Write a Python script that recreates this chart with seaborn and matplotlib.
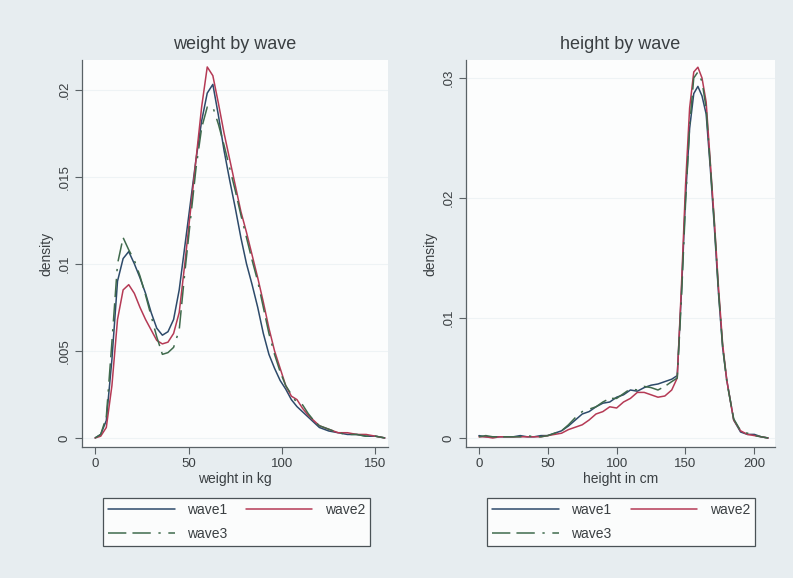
import matplotlib
matplotlib.use("Agg")
import matplotlib.pyplot as plt
import matplotlib.ticker as mticker
import seaborn as sns
import pandas as pd

# ---------------- data ----------------
waves = ["wave1", "wave2", "wave3"]

weight_x = [0, 3, 6, 9, 12, 15, 18, 21, 24, 27, 30, 33, 36, 39, 42, 45, 48, 51, 54, 57,
            60, 63, 66, 69, 72, 75, 78, 81, 84, 87, 90, 93, 96, 99, 102, 105, 108, 111,
            114, 117, 120, 125, 130, 135, 140, 145, 150, 155]
weight_wave1 = [0.0000, 0.0002, 0.0010, 0.0045, 0.0090, 0.0103, 0.0107, 0.0100, 0.0092, 0.0083,
                0.0072, 0.0063, 0.0059, 0.0061, 0.0068, 0.0085, 0.0110, 0.0135, 0.0160, 0.0182,
                0.0198, 0.0203, 0.0185, 0.0165, 0.0148, 0.0132, 0.0115, 0.0100, 0.0088, 0.0075,
                0.0060, 0.0048, 0.0040, 0.0033, 0.0028, 0.0022, 0.0018, 0.0015, 0.0012, 0.0009,
                0.0006, 0.0004, 0.0003, 0.0002, 0.0002, 0.0001, 0.0001, 0.0000]
weight_wave2 = [0.0000, 0.0001, 0.0006, 0.0030, 0.0068, 0.0085, 0.0088, 0.0083, 0.0075, 0.0068,
                0.0062, 0.0056, 0.0054, 0.0055, 0.0060, 0.0072, 0.0100, 0.0130, 0.0160, 0.0190,
                0.0213, 0.0208, 0.0192, 0.0175, 0.0160, 0.0145, 0.0130, 0.0118, 0.0105, 0.0092,
                0.0078, 0.0063, 0.0050, 0.0040, 0.0030, 0.0024, 0.0022, 0.0017, 0.0013, 0.0010,
                0.0007, 0.0005, 0.0003, 0.0003, 0.0002, 0.0002, 0.0001, 0.0000]
weight_wave3 = [0.0000, 0.0002, 0.0012, 0.0055, 0.0100, 0.0115, 0.0108, 0.0102, 0.0093, 0.0082,
                0.0070, 0.0058, 0.0048, 0.0049, 0.0052, 0.0062, 0.0095, 0.0125, 0.0155, 0.0178,
                0.0190, 0.0190, 0.0180, 0.0168, 0.0155, 0.0142, 0.0128, 0.0115, 0.0102, 0.0090,
                0.0075, 0.0060, 0.0048, 0.0038, 0.0030, 0.0025, 0.0020, 0.0019, 0.0014, 0.0010,
                0.0007, 0.0005, 0.0003, 0.0002, 0.0002, 0.0001, 0.0001, 0.0000]

height_x = [0, 5, 10, 15, 20, 25, 30, 35, 40, 45, 50, 55, 60, 65, 70, 75, 80, 85, 90, 95,
            100, 105, 110, 115, 120, 125, 130, 135, 140, 144, 147, 150, 153, 156, 159, 162,
            165, 168, 171, 174, 177, 180, 185, 190, 195, 200, 205, 210]
height_wave1 = [0.0002, 0.0001, 0.0001, 0.0001, 0.0001, 0.0001, 0.0002, 0.0001, 0.0001, 0.0002,
                0.0002, 0.0004, 0.0006, 0.0010, 0.0015, 0.0020, 0.0022, 0.0026, 0.0029, 0.0030,
                0.0034, 0.0036, 0.0040, 0.0039, 0.0042, 0.0044, 0.0045, 0.0047, 0.0049, 0.0052,
                0.0120, 0.0200, 0.0258, 0.0287, 0.0293, 0.0285, 0.0270, 0.0225, 0.0175, 0.0120,
                0.0075, 0.0048, 0.0015, 0.0005, 0.0003, 0.0003, 0.0001, 0.0000]
height_wave2 = [0.0001, 0.0001, 0.0000, 0.0001, 0.0001, 0.0001, 0.0001, 0.0001, 0.0001, 0.0001,
                0.0002, 0.0003, 0.0004, 0.0007, 0.0009, 0.0011, 0.0015, 0.0020, 0.0022, 0.0026,
                0.0025, 0.0030, 0.0033, 0.0038, 0.0038, 0.0036, 0.0034, 0.0035, 0.0040, 0.0050,
                0.0125, 0.0210, 0.0275, 0.0305, 0.0309, 0.0300, 0.0280, 0.0230, 0.0180, 0.0125,
                0.0078, 0.0048, 0.0015, 0.0006, 0.0003, 0.0002, 0.0001, 0.0000]
height_wave3 = [0.0001, 0.0002, 0.0001, 0.0001, 0.0001, 0.0001, 0.0001, 0.0002, 0.0001, 0.0001,
                0.0002, 0.0004, 0.0006, 0.0011, 0.0017, 0.0022, 0.0024, 0.0026, 0.0030, 0.0033,
                0.0033, 0.0037, 0.0041, 0.0040, 0.0043, 0.0042, 0.0040, 0.0043, 0.0047, 0.0050,
                0.0115, 0.0195, 0.0260, 0.0300, 0.0305, 0.0297, 0.0275, 0.0228, 0.0178, 0.0122,
                0.0076, 0.0047, 0.0016, 0.0006, 0.0004, 0.0002, 0.0001, 0.0000]

weight_ticks = [0, 50, 100, 150]
weight_yticks = [0, 0.005, 0.01, 0.015, 0.02]
height_ticks = [0, 50, 100, 150, 200]
height_yticks = [0, 0.01, 0.02, 0.03]

# ---------------- style ----------------
sns.set_theme(style="white")
plt.rcParams["font.family"] = ["Liberation Sans", "DejaVu Sans"]

BG = "#e7edf0"
PLOT_BG = "#fcfdfd"
AXC = "#5a6266"
TXT = "#3a3f42"
palette = {"wave1": "#2d4a6a", "wave2": "#b53a55", "wave3": "#3f6a4c"}
dashes = {"wave1": "", "wave2": "", "wave3": (12, 4, 12, 5, 1.5, 5)}


def long_df(x, series):
    rows = []
    for name, vals in zip(waves, series):
        for xv, yv in zip(x, vals):
            rows.append({"x": xv, "density": yv, "wave": name})
    return pd.DataFrame(rows)


def stata_fmt(v, pos):
    if abs(v) < 1e-12:
        return "0"
    s = ("%.3f" % v).rstrip("0")
    return s.replace("0.", ".", 1)


fig = plt.figure(figsize=(7.93, 5.78), dpi=100, facecolor=BG)

panels = [
    dict(rect=[82 / 793, 1 - 447 / 578, 306 / 793, 387 / 578],
         x=weight_x, series=[weight_wave1, weight_wave2, weight_wave3],
         title="weight by wave", xlabel="weight in kg",
         xlim=(-7, 156.7), ylim=(-0.00052, 0.0217),
         xticks=weight_ticks, yticks=weight_yticks,
         leg=(21 / 306, -100 / 387, 267 / 306, 50 / 387)),
    dict(rect=[466 / 793, 1 - 447 / 578, 309 / 793, 387 / 578],
         x=height_x, series=[height_wave1, height_wave2, height_wave3],
         title="height by wave", xlabel="height in cm",
         xlim=(-9.4, 215), ylim=(-0.00075, 0.0315),
         xticks=height_ticks, yticks=height_yticks,
         leg=(21 / 309, -100 / 387, 268 / 309, 50 / 387)),
]

for p in panels:
    ax = fig.add_axes(p["rect"])
    ax.set_facecolor(PLOT_BG)
    df = long_df(p["x"], p["series"])
    sns.lineplot(data=df, x="x", y="density", hue="wave", style="wave",
                 palette=palette, dashes=dashes, linewidth=1.1, ax=ax,
                 legend=True, estimator=None, sort=False)
    ax.set_xlim(*p["xlim"])
    ax.set_ylim(*p["ylim"])
    ax.set_xticks(p["xticks"])
    ax.set_yticks(p["yticks"])
    ax.yaxis.set_major_formatter(mticker.FuncFormatter(stata_fmt))
    for lab in ax.get_yticklabels():
        lab.set_rotation(90)
        lab.set_va("center")
    ax.tick_params(axis="both", direction="out", length=5, width=0.8,
                   color=AXC, labelcolor=TXT, labelsize=9.5, pad=3,
                   left=True, bottom=True)
    ax.grid(axis="y", color="#eef3f5", linewidth=0.8)
    ax.set_axisbelow(True)
    for s in ["top", "right"]:
        ax.spines[s].set_visible(False)
    for s in ["left", "bottom"]:
        ax.spines[s].set_color(AXC)
        ax.spines[s].set_linewidth(0.9)
    ax.set_xlabel(p["xlabel"], fontsize=10, color=TXT, labelpad=1)
    ax.set_ylabel("density", fontsize=10, color=TXT, labelpad=4)
    ax.set_title(p["title"], fontsize=13, color=TXT, pad=8)

    handles, labels = ax.get_legend_handles_labels()
    hmap = dict(zip(labels, handles))
    order = ["wave1", "wave3", "wave2"]
    leg = ax.legend([hmap[k] for k in order], order, ncol=2,
                    bbox_to_anchor=p["leg"], mode="expand", loc="center",
                    frameon=True, fancybox=False, edgecolor="#4a5256",
                    facecolor="#fbfcfc", framealpha=1, fontsize=10,
                    handlelength=4.8, handletextpad=0.9, columnspacing=2.0,
                    labelspacing=0.75, borderpad=0.35, borderaxespad=0)
    leg.get_frame().set_linewidth(0.9)
    for t in leg.get_texts():
        t.set_color(TXT)

fig.savefig("out.png", dpi=100, facecolor=BG)
